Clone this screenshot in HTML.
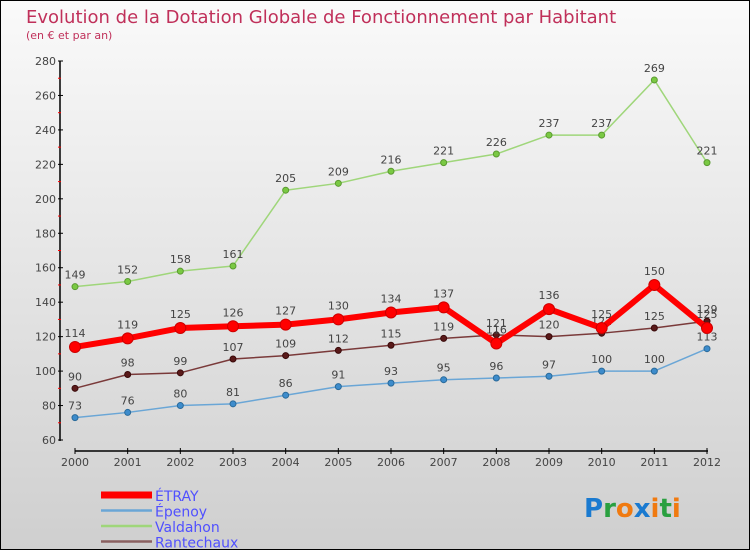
<!DOCTYPE html>
<html><head><meta charset="utf-8"><style>
body{margin:0}
#c{position:relative;width:748px;height:548px;border:1px solid #000;background:linear-gradient(#fafafa,#cfcfcf);font-family:"DejaVu Sans","Liberation Sans",sans-serif;overflow:hidden}
</style></head><body>
<div id="c">
<svg id="s" width="748" height="548"></svg>
</div>
<script>
const years=["2000","2001","2002","2003","2004","2005","2006","2007","2008","2009","2010","2011","2012"];
const yTicks=[60,80,100,120,140,160,180,200,220,240,260,280];
const etray=[114,119,125,126,127,130,134,137,116,136,125,150,125];
const epenoy=[73,76,80,81,86,91,93,95,96,97,100,100,113];
const valdahon=[149,152,158,161,205,209,216,221,226,237,237,269,221];
const rantechaux=[90,98,99,107,109,112,115,119,121,120,122,125,129];
const NS="http://www.w3.org/2000/svg";
const s=document.getElementById('s');
function X(i){return 74+i*(632/12);}
function Y(v){return 439-(v-60)*(379/220);}
function el(t,a,p){const e=document.createElementNS(NS,t);for(const k in a)e.setAttribute(k,a[k]);(p||s).appendChild(e);return e;}
function tx(x,y,str,a){const e=el('text',Object.assign({x:x,y:y},a));e.textContent=str;return e;}
let t=tx(25,22,"Evolution de la Dotation Globale de Fonctionnement par Habitant",{fill:"#c0305a","font-size":"18"});

t=tx(25,38,"(en € et par an)",{fill:"#c0305a","font-size":"11"});

// axes
let a=el('line',{x1:59,y1:60,x2:59,y2:440,stroke:"#000","stroke-width":1.5});

a=el('line',{x1:74,y1:450,x2:707,y2:450,stroke:"#000","stroke-width":1.5});

yTicks.forEach((v,i)=>{
 el('line',{x1:57,x2:62,y1:Y(v),y2:Y(v),stroke:"#000"});
 if(i<yTicks.length-1)el('line',{x1:57,x2:60,y1:Y(v+10),y2:Y(v+10),stroke:"#f00"});
 const l=tx(55,Y(v)+4,String(v),{fill:"#444","font-size":"11","text-anchor":"end"});
 
});
years.forEach((y,i)=>{
 el('line',{x1:X(i),x2:X(i),y1:447,y2:453,stroke:"#000"});
 const l=tx(X(i),465,y,{fill:"#444","font-size":"11","text-anchor":"middle"});
 
});
function series(d,name,col,w,dot,dotStroke,r,lblOff){
 const g=el('g',{});
 
 el('polyline',{points:d.map((v,i)=>X(i)+","+Y(v)).join(" "),fill:"none",stroke:col,"stroke-width":w,"stroke-linejoin":"round"},g);
 d.forEach((v,i)=>{
  const c=el('circle',{cx:X(i),cy:Y(v),r:r,fill:dot,stroke:dotStroke},g);
  
  const l=tx(X(i),Y(v)-lblOff,String(v),{fill:"#444","font-size":"11","text-anchor":"middle"},g);
  
 });
}
series(valdahon,'valdahon',"#9fd67a",1.5,"#7ac943","#5a9a30",3,8);
series(epenoy,'epenoy',"#6aa6d6",1.5,"#3d8ccc","#2a6a9a",3,8);
series(rantechaux,'rantechaux',"#7a3a3a",1.5,"#5a1a1a","#3a0a0a",3,8);
series(etray,'etray',"#f00",6,"#f00","#c00",5.5,10);
// legend
const leg=[["ÉTRAY","#f00",7],["Épenoy","#6aa6d6",2.5],["Valdahon","#9fd67a",2.5],["Rantechaux","#8a6060",2.5]];
leg.forEach((l,i)=>{
 const y=494+i*15.5;
 const g=el('g',{});
 el('line',{x1:100,x2:151,y1:y,y2:y,stroke:l[1],"stroke-width":l[2]},g);
 tx(154,y+6,l[0],{fill:"#5050ff","font-size":"14"},g);
});
const p=tx(583,516,"",{"font-size":"26","font-weight":"bold"});

[["P","#1a7ad0"],["r","#2aa040"],["o","#f07a10"],["x","#1a7ad0"],["i","#f07a10"],["t","#2aa040"],["i","#f07a10"]].forEach(c=>{const e=el('tspan',{fill:c[1]},p);e.textContent=c[0];});
</script>
</body></html>
